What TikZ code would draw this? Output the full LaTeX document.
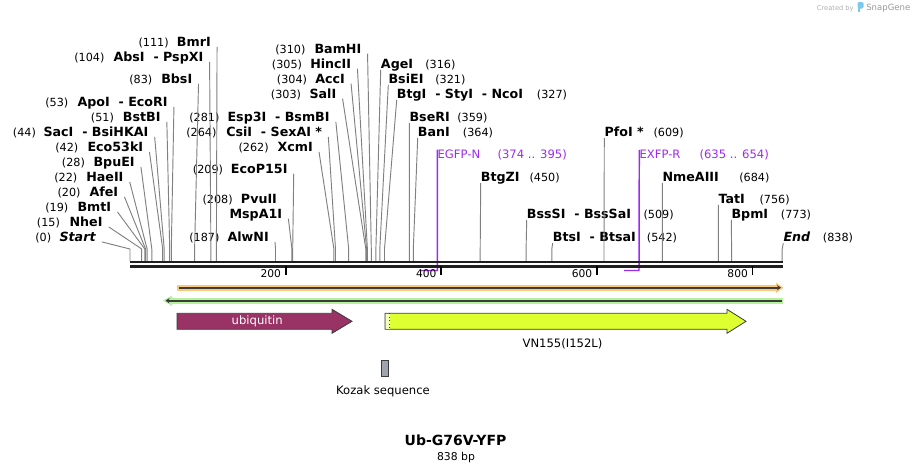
\documentclass[tikz,border=0pt]{standalone}
\usepackage{fontspec}
\setmainfont{DejaVu Sans}
\usetikzlibrary{arrows.meta}
\definecolor{leadgray}{RGB}{128,128,128}
\definecolor{primerpurple}{RGB}{158,42,240}
\definecolor{ubiq}{RGB}{153,51,102}
\definecolor{vnyellow}{RGB}{222,255,48}
\definecolor{orfA}{RGB}{252,201,123}
\definecolor{orfB}{RGB}{180,243,154}
\definecolor{kozak}{RGB}{160,164,172}
\definecolor{featline}{RGB}{60,60,60}
\definecolor{createdgray}{RGB}{175,175,175}
\definecolor{snapblue}{RGB}{120,200,240}
\tikzstyle{leader} = [leadgray,line width=0.7pt]

\begin{document}
\begin{tikzpicture}[x=0.75pt,y=-0.75pt]
\tikzset{enz/.style={anchor=base west,inner sep=0pt,font=\fontsize{9.5}{11}\selectfont\bfseries},
  endlab/.style={enz,font=\fontsize{9.5}{11}\selectfont\bfseries\itshape},
  sitenum/.style={anchor=base west,inner sep=0pt,font=\fontsize{8.4}{10}\selectfont},
  ptext/.style={anchor=base west,inner sep=0pt,text=primerpurple,font=\fontsize{8.7}{10}\selectfont},
  primer/.style={primerpurple,line width=1.1pt},
  backbone/.style={black!88,line width=1.9pt},
  orfline/.style={featline,line width=1.5pt},
  feat/.style={draw=featline,line width=0.6pt},
  flabel/.style={anchor=base,inner sep=0pt,font=\fontsize{8.7}{10}\selectfont},
  ticklab/.style={anchor=base east,inner sep=0pt,font=\fontsize{8}{9}\selectfont}}
\useasboundingbox (0,0) rectangle (914,471);

\coordinate (knee) at (0,249);
\coordinate (pbar) at (0,270.5);
\coordinate (s0) at (130,261);
\coordinate (s15) at (141.7,261);
\coordinate (s19) at (144.8,261);
\coordinate (s20) at (145.6,261);
\coordinate (s22) at (147.1,261);
\coordinate (s28) at (151.8,261);
\coordinate (s42) at (162.7,261);
\coordinate (s44) at (164.2,261);
\coordinate (s51) at (169.7,261);
\coordinate (s53) at (171.3,261);
\coordinate (s83) at (194.6,261);
\coordinate (s104) at (210.9,261);
\coordinate (s111) at (216.4,261);
\coordinate (s187) at (275.5,261);
\coordinate (s208) at (291.9,261);
\coordinate (s209) at (292.7,261);
\coordinate (s262) at (333.9,261);
\coordinate (s264) at (335.5,261);
\coordinate (s281) at (348.7,261);
\coordinate (s303) at (365.8,261);
\coordinate (s304) at (366.6,261);
\coordinate (s305) at (367.4,261);
\coordinate (s310) at (371.3,261);
\coordinate (s316) at (375.9,261);
\coordinate (s321) at (379.8,261);
\coordinate (s327) at (384.5,261);
\coordinate (s359) at (409.4,261);
\coordinate (s364) at (413.3,261);
\coordinate (s374) at (421.1,261);
\coordinate (s395) at (437.4,261);
\coordinate (s450) at (480.2,261);
\coordinate (s509) at (526.1,261);
\coordinate (s542) at (551.8,261);
\coordinate (s609) at (604.0,261);
\coordinate (s635) at (624.2,261);
\coordinate (s654) at (639.0,261);
\coordinate (s684) at (662.4,261);
\coordinate (s756) at (718.4,261);
\coordinate (s773) at (731.6,261);
\coordinate (s838) at (782.2,261);

\node[sitenum] (p111) at (138.3,46.9) {(111)};
\node[enz] (bmr) at (176.7,46.9) {BmrI};
\node[sitenum] (p104) at (74,61.9) {(104)};
\node[enz] (abs) at (113.3,61.9) {AbsI~~- PspXI};
\node[sitenum] (p83) at (129,83.6) {(83)};
\node[enz] (bbs) at (161,83.6) {BbsI};
\node[sitenum] (p53) at (45,106.9) {(53)};
\node[enz] (apo) at (77.3,106.9) {ApoI~~- EcoRI};
\node[sitenum] (p51) at (90.7,121.9) {(51)};
\node[enz] (bstb) at (122.7,121.9) {BstBI};
\node[sitenum] (p44) at (12.7,136.9) {(44)};
\node[enz] (sac) at (43.3,136.9) {SacI~~- BsiHKAI};
\node[sitenum] (p42) at (55,151.9) {(42)};
\node[enz] (eco53) at (87.3,151.9) {Eco53kI};
\node[sitenum] (p28) at (61.7,166.9) {(28)};
\node[enz] (bpue) at (93.3,166.9) {BpuEI};
\node[sitenum] (p22) at (54,181.9) {(22)};
\node[enz] (hae) at (86,181.9) {HaeII};
\node[sitenum] (p20) at (57.3,196.9) {(20)};
\node[enz] (afe) at (89.3,196.9) {AfeI};
\node[sitenum] (p19) at (45,211.9) {(19)};
\node[enz] (bmt) at (77.3,211.9) {BmtI};
\node[sitenum] (p15) at (36.7,226.9) {(15)};
\node[enz] (nhe) at (69.3,226.9) {NheI};
\node[sitenum] (p0) at (35,241.9) {(0)};
\node[endlab] (start) at (59.3,241.9) {Start};

\node[sitenum] (p310) at (275,53.6) {(310)};
\node[enz] (bamh) at (314.3,53.6) {BamHI};
\node[sitenum] (p305) at (271.7,68.6) {(305)};
\node[enz] (hinc) at (310,68.6) {HincII};
\node[sitenum] (p304) at (276.7,83.6) {(304)};
\node[enz] (acc) at (315,83.6) {AccI};
\node[sitenum] (p303) at (270.7,98.6) {(303)};
\node[enz] (sal) at (309.3,98.6) {SalI};
\node[sitenum] (p281) at (189,121.9) {(281)};
\node[enz] (esp) at (227.3,121.9) {Esp3I~~- BsmBI};
\node[sitenum] (p264) at (186,136.9) {(264)};
\node[enz] (csi) at (226,136.9) {CsiI~~- SexAI *};
\node[sitenum] (p262) at (238.3,151.9) {(262)};
\node[enz] (xcm) at (277.3,151.9) {XcmI};
\node[sitenum] (p209) at (192.7,173.6) {(209)};
\node[enz] (ecop) at (230.7,173.6) {EcoP15I};
\node[sitenum] (p208) at (202.3,203.6) {(208)};
\node[enz] (pvu) at (240.7,203.6) {PvuII};
\node[enz] (mspa) at (229.3,218.6) {MspA1I};
\node[sitenum] (p187) at (189,241.9) {(187)};
\node[enz] (alwn) at (227.3,241.9) {AlwNI};

\node[enz] (age) at (380.7,68.6) {AgeI};
\node[sitenum] (p316) at (425,68.6) {(316)};
\node[enz] (bsie) at (388.3,83.6) {BsiEI};
\node[sitenum] (p321) at (435,83.6) {(321)};
\node[enz] (btg) at (396.7,98.6) {BtgI~~- StyI~~- NcoI};
\node[sitenum] (p327) at (536.7,98.6) {(327)};
\node[enz] (bser) at (409.3,121.9) {BseRI};
\node[sitenum] (p359) at (457,121.9) {(359)};
\node[enz] (ban) at (417.7,136.9) {BanI};
\node[sitenum] (p364) at (462.7,136.9) {(364)};
\node[ptext] (egfp) at (437.3,158.6) {EGFP-N};
\node[ptext] (egfprange) at (497.3,158.6) {(374 .. 395)};
\node[enz] (btgz) at (480.7,181.9) {BtgZI};
\node[sitenum] (p450) at (529.3,181.9) {(450)};
\node[enz] (bsss) at (526.7,218.6) {BssSI~~- BssSaI};
\node[sitenum] (p509) at (643.3,218.6) {(509)};
\node[enz] (bts) at (552.7,241.9) {BtsI~~- BtsaI};
\node[sitenum] (p542) at (646.7,241.9) {(542)};
\node[enz] (pfo) at (604.3,136.9) {PfoI *};
\node[sitenum] (p609) at (653.3,136.9) {(609)};
\node[ptext] (exfp) at (639.3,158.6) {EXFP-R};
\node[ptext] (exfprange) at (699.3,158.6) {(635 .. 654)};
\node[enz] (nmea) at (662.3,181.9) {NmeAIII};
\node[sitenum] (p684) at (739,181.9) {(684)};
\node[enz] (tat) at (718.3,203.6) {TatI};
\node[sitenum] (p756) at (759.3,203.6) {(756)};
\node[enz] (bpm) at (731.3,218.6) {BpmI};
\node[sitenum] (p773) at (780.7,218.6) {(773)};
\node[endlab] (endl) at (783.3,241.9) {End};
\node[sitenum] (p838) at (822.7,241.9) {(838)};

\draw[leader] ([xshift=4.5pt]bmr.base east) -- (s111 |- knee) -- (s111);
\draw[leader] ([xshift=4.5pt]abs.base east) -- (s104 |- knee) -- (s104);
\draw[leader] ([xshift=4.5pt]bbs.base east) -- (s83 |- knee) -- (s83);
\draw[leader] ([xshift=4.5pt]apo.base east) -- (s53 |- knee) -- (s53);
\draw[leader] ([xshift=4.5pt]bstb.base east) -- (s51 |- knee) -- (s51);
\draw[leader] ([xshift=4.5pt]sac.base east) -- (s44 |- knee) -- (s44);
\draw[leader] ([xshift=4.5pt]eco53.base east) -- (s42 |- knee) -- (s42);
\draw[leader] ([xshift=4.5pt]bpue.base east) -- (s28 |- knee) -- (s28);
\draw[leader] ([xshift=4.5pt]hae.base east) -- (s22 |- knee) -- (s22);
\draw[leader] ([xshift=4.5pt]afe.base east) -- (s20 |- knee) -- (s20);
\draw[leader] ([xshift=4.5pt]bmt.base east) -- (s19 |- knee) -- (s19);
\draw[leader] ([xshift=4.5pt]nhe.base east) -- (s15 |- knee) -- (s15);
\draw[leader] ([xshift=4.5pt]start.base east) -- (s0 |- knee) -- (s0);
\draw[leader] ([xshift=4.5pt]bamh.base east) -- (s310 |- knee) -- (s310);
\draw[leader] ([xshift=4.5pt]hinc.base east) -- (s305 |- knee) -- (s305);
\draw[leader] ([xshift=4.5pt]acc.base east) -- (s304 |- knee) -- (s304);
\draw[leader] ([xshift=4.5pt]sal.base east) -- (s303 |- knee) -- (s303);
\draw[leader] ([xshift=4.5pt]esp.base east) -- (s281 |- knee) -- (s281);
\draw[leader] ([xshift=4.5pt]csi.base east) -- (s264 |- knee) -- (s264);
\draw[leader] ([xshift=4.5pt]xcm.base east) -- (s262 |- knee) -- (s262);
\draw[leader] ([xshift=4.5pt]ecop.base east) -- (s209 |- knee) -- (s209);
\draw[leader] ([xshift=4.5pt]mspa.base east) -- (s208 |- knee) -- (s208);
\draw[leader] ([xshift=4.5pt]alwn.base east) -- (s187 |- knee) -- (s187);
\draw[leader] ([yshift=-1pt]age.base west) -- (s316 |- knee) -- (s316);
\draw[leader] ([yshift=-1pt]bsie.base west) -- (s321 |- knee) -- (s321);
\draw[leader] ([yshift=-1pt]btg.base west) -- (s327 |- knee) -- (s327);
\draw[leader] ([yshift=-1pt]bser.base west) -- (s359 |- knee) -- (s359);
\draw[leader] ([yshift=-1pt]ban.base west) -- (s364 |- knee) -- (s364);
\draw[leader] ([yshift=-1pt]btgz.base west) -- (s450 |- knee) -- (s450);
\draw[leader] ([yshift=-1pt]bsss.base west) -- (s509 |- knee) -- (s509);
\draw[leader] ([yshift=-1pt]bts.base west) -- (s542 |- knee) -- (s542);
\draw[leader] ([yshift=-1pt]pfo.base west) -- (s609 |- knee) -- (s609);
\draw[leader] ([yshift=-1pt]nmea.base west) -- (s684 |- knee) -- (s684);
\draw[leader] ([yshift=-1pt]tat.base west) -- (s756 |- knee) -- (s756);
\draw[leader] ([yshift=-1pt]bpm.base west) -- (s773 |- knee) -- (s773);
\draw[leader] ([yshift=-1pt]endl.base west) -- (s838 |- knee) -- (s838);

\draw[primer] (egfp.north west) -- (s395 |- pbar) -- (s374 |- pbar);
\draw[primer] (exfp.north west) -- (s654 |- pbar) -- (s635 |- pbar);

\draw[backbone] (130,262.2) -- (783.3,262.2);
\draw[backbone] (130,266.3) -- (783.3,266.3);
\draw[line width=1.3pt] (285.7,266) -- (285.7,275);
\draw[line width=1.3pt] (441.3,266) -- (441.3,275);
\draw[line width=1.3pt] (597,266) -- (597,275);
\draw[line width=1.3pt] (752.6,266) -- (752.6,275);
\node[ticklab] (t200) at (281.2,277.7) {200};
\node[ticklab] (t400) at (436.8,277.7) {400};
\node[ticklab] (t600) at (592.5,277.7) {600};
\node[ticklab] (t800) at (748.1,277.7) {800};

\fill[orfA] (177,284.5) rectangle (778,291);
\fill[orfA] (776,282.5) -- (783.5,287.7) -- (776,293) -- cycle;
\draw[orfline,-{Stealth[length=3pt,width=4pt]}] (178.5,287.7) -- (781,287.7);
\fill[orfB] (170,298) rectangle (783.3,303.5);
\fill[orfB] (172,295.5) -- (163,300.7) -- (172,306) -- cycle;
\draw[orfline,-{Stealth[length=3pt,width=4pt]}] (781.8,300.7) -- (165.5,300.7);

\draw[feat,fill=ubiq] (177,313.3) -- (332,313.3) -- (332,309.3) -- (352,321.3) -- (332,333.3) -- (332,329.3) -- (177,329.3) -- cycle;
\node[flabel,text=white] (ubiquitin) at (257.2,324.5) {ubiquitin};
\draw[feat,fill=vnyellow] (385,313.3) -- (727,313.3) -- (727,309.3) -- (746,321.3) -- (727,333.3) -- (727,329.3) -- (385,329.3) -- cycle;
\fill[vnyellow!35] (385.5,313.8) rectangle (389.7,328.8);
\draw[featline,line width=0.6pt,dotted] (389.7,313.3) -- (389.7,329.3);
\node[flabel] (vn155) at (562.5,347.3) {VN155(I152L)};
\draw[feat,fill=kozak] (381.7,360.7) rectangle (388.3,376);
\node[flabel] (kozaklab) at (383,394.3) {Kozak sequence};

\node[anchor=base,inner sep=0pt,font=\fontsize{10.5}{12}\selectfont\bfseries] (title) at (455.5,445) {Ub-G76V-YFP};
\node[anchor=base,inner sep=0pt,font=\fontsize{8.1}{10}\selectfont] (length) at (456,460) {838 bp};

\node[anchor=base west,inner sep=0pt,text=createdgray,font=\fontsize{5}{6}\selectfont] (created) at (816.7,10) {Created by};
\fill[snapblue,rounded corners=1pt] (857.5,2) rectangle (863.5,8.5);
\fill[snapblue] (857.5,6) rectangle (860,12);
\node[anchor=base west,inner sep=0pt,text=createdgray!130,font=\fontsize{6.4}{7}\selectfont] (snapgene) at (866,10.7) {SnapGene};
\end{tikzpicture}
\end{document}
